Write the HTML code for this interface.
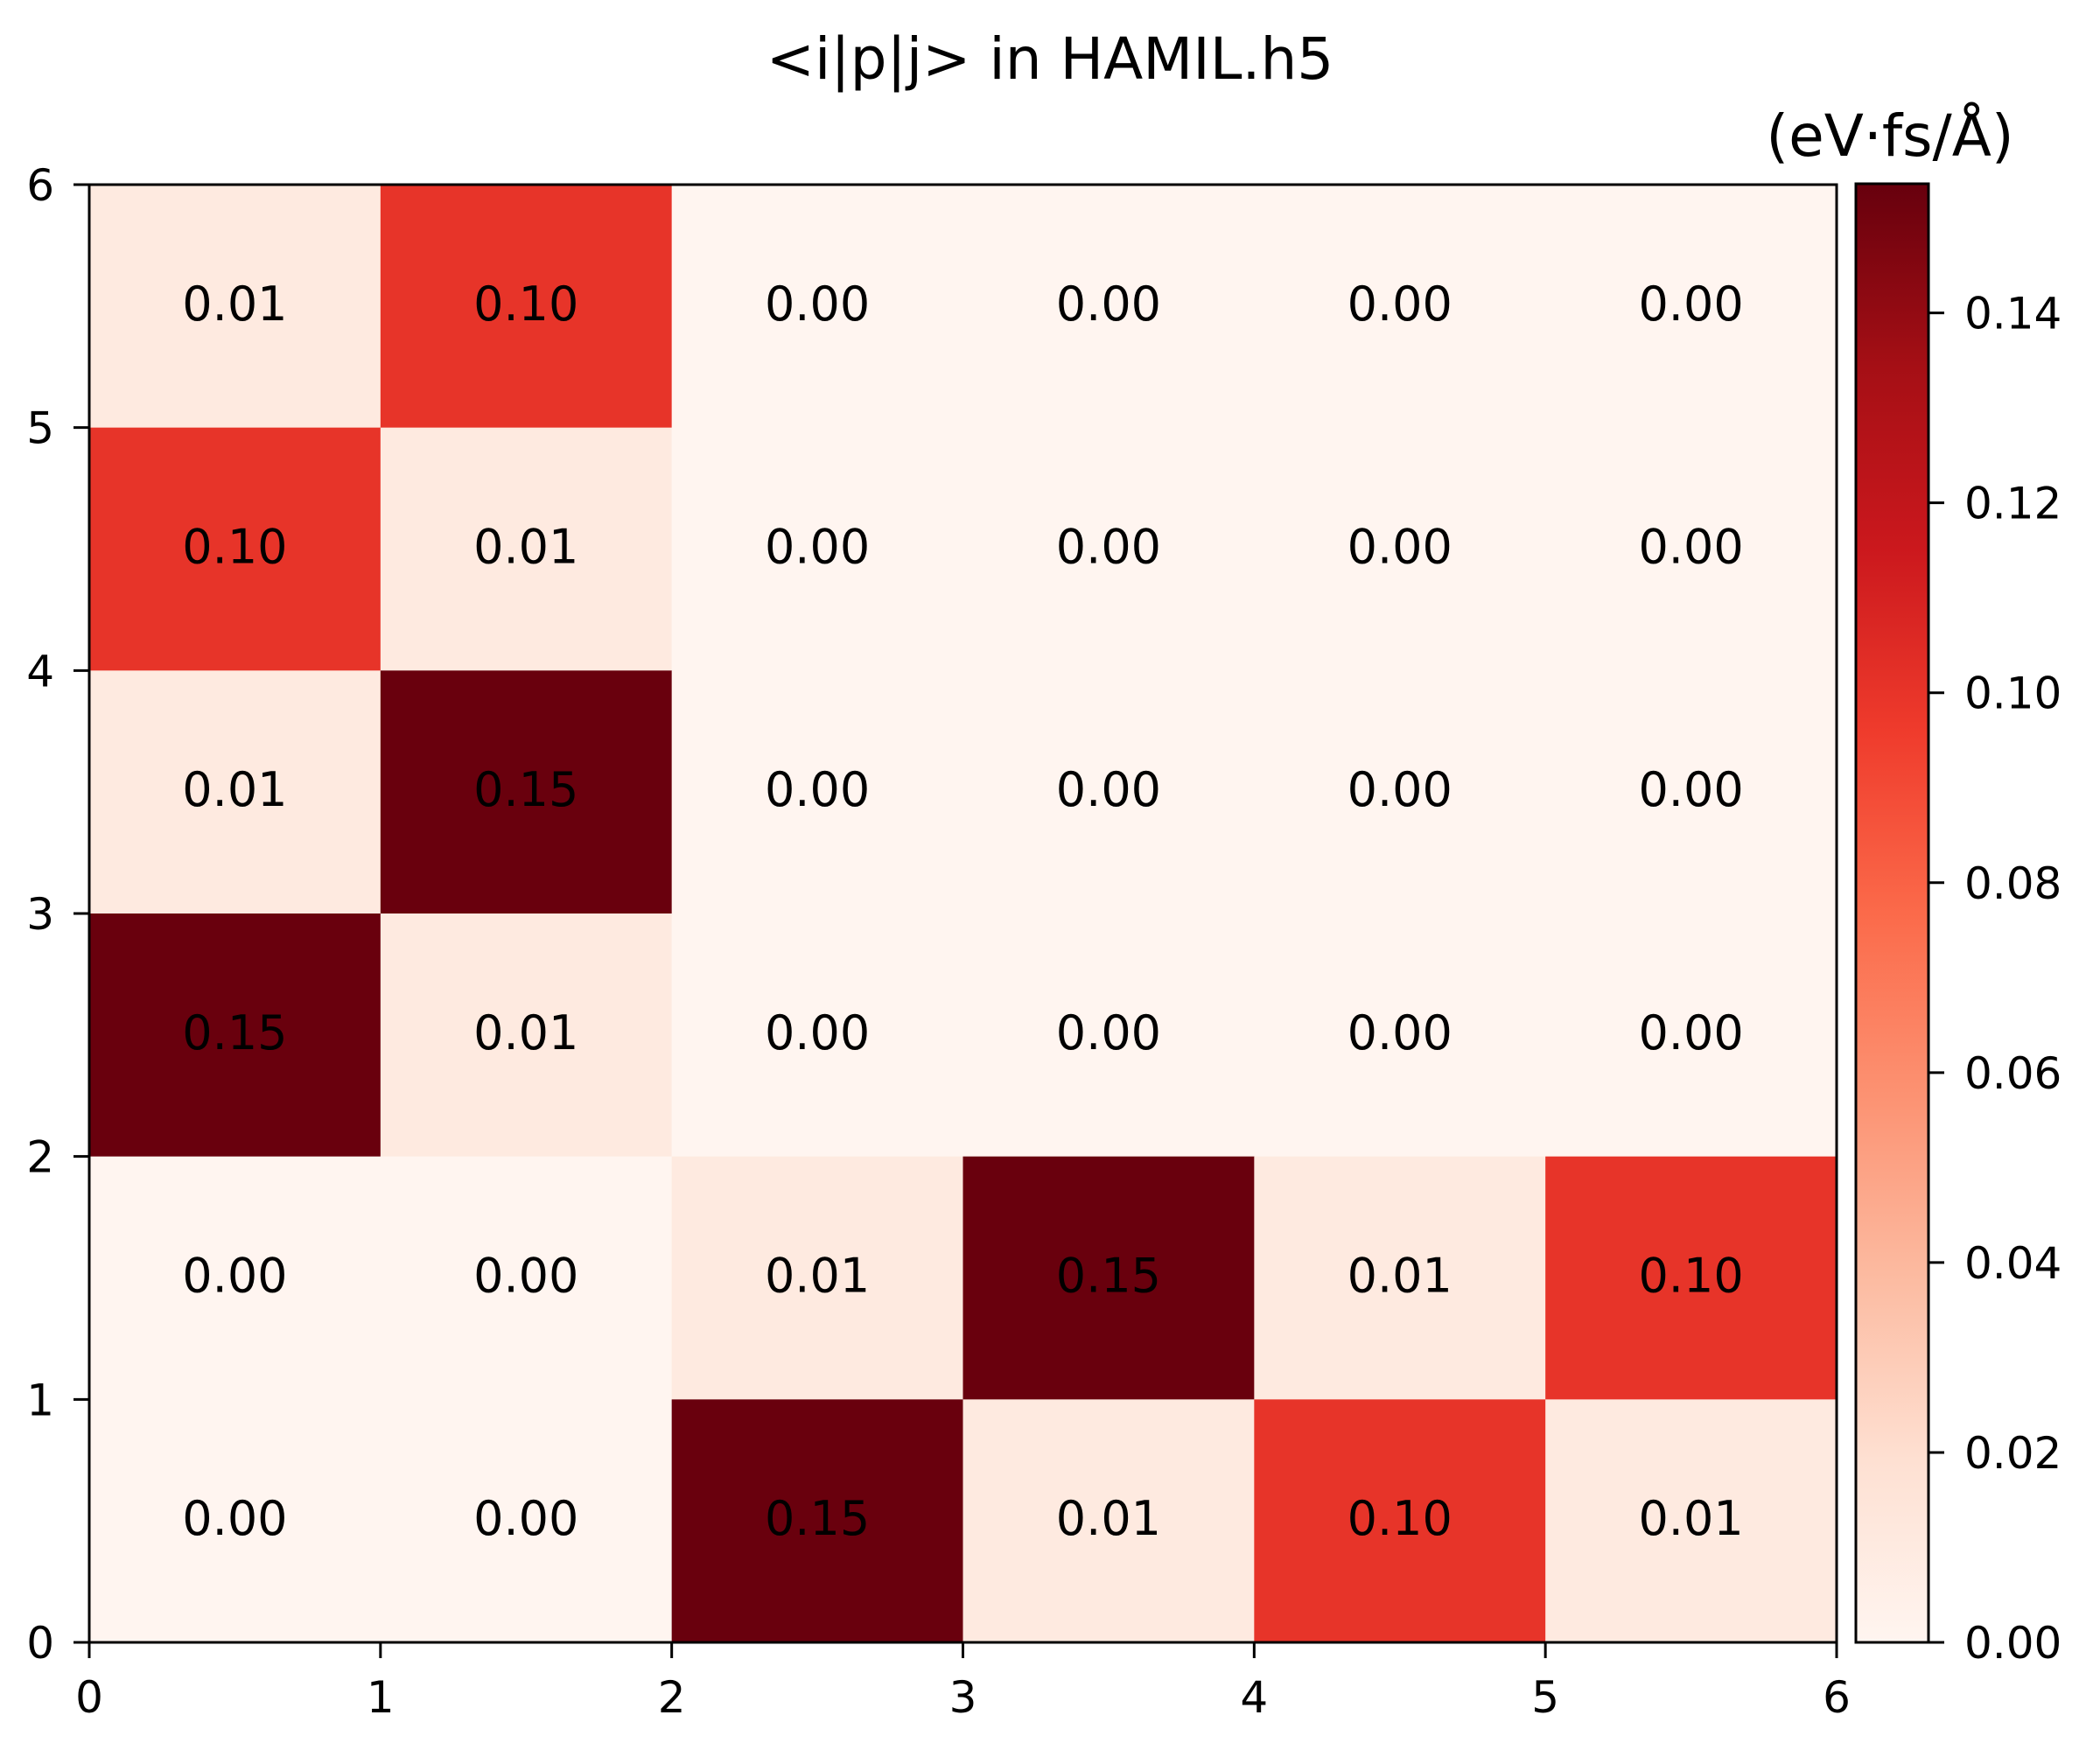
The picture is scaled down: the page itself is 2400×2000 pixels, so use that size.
<!DOCTYPE html>
<html><head><meta charset="utf-8"><style>
html,body{margin:0;padding:0;background:#fff;}
svg{display:block;font-family:"DejaVu Sans","Liberation Sans",sans-serif;}
</style></head><body>
<svg id="chart" width="2400" height="2000" viewBox="0 0 2400 2000" xmlns="http://www.w3.org/2000/svg">
<text x="1200" y="90" font-size="66" text-anchor="middle">&lt;i|p|j&gt; in HAMIL.h5</text>
<text x="2160" y="178" font-size="66" text-anchor="middle">(eV·fs/Å)</text>
<defs><linearGradient id="cbgrad" x1="0" y1="1" x2="0" y2="0"></linearGradient></defs>
<g id="cells"></g>
<g id="labels"></g>
<rect x="102" y="211" width="1997" height="1666" fill="none" stroke="#000" stroke-width="3"/>
<g id="xaxis"></g>
<g id="yaxis"></g>
<rect x="2121" y="210" width="83" height="1667" fill="url(#cbgrad)" stroke="#000" stroke-width="3"/>
<g id="cbaxis"></g>
</svg>
<script>
const rowsY = [5, 4, 3, 2, 1, 0];
const row5 = [0.01, 0.10, 0.00, 0.00, 0.00, 0.00];
const row4 = [0.10, 0.01, 0.00, 0.00, 0.00, 0.00];
const row3 = [0.01, 0.153, 0.00, 0.00, 0.00, 0.00];
const row2 = [0.153, 0.01, 0.00, 0.00, 0.00, 0.00];
const row1 = [0.00, 0.00, 0.01, 0.153, 0.01, 0.10];
const row0 = [0.00, 0.00, 0.153, 0.01, 0.10, 0.01];
const xTicks = [0, 1, 2, 3, 4, 5, 6];
const yTicks = [0, 1, 2, 3, 4, 5, 6];
const cbTicks = [0.00, 0.02, 0.04, 0.06, 0.08, 0.10, 0.12, 0.14];
const vmin = 0, vmax = 0.1536;

const rows = [row5, row4, row3, row2, row1, row0];
const NS = "http://www.w3.org/2000/svg";
const X0 = 102, X1 = 2099, Y0 = 1877, Y1 = 211;
const sx = v => X0 + (X1 - X0) * v / 6;
const sy = v => Y0 - (Y0 - Y1) * v / 6;
const CB0 = 1877, CB1 = 210;
const cy = v => CB0 - (CB0 - CB1) * (v - vmin) / (vmax - vmin);
const stops = ["#fff5f0","#fee0d2","#fcbba1","#fc9272","#fb6a4a","#ef3b2c","#cb181d","#a50f15","#67000d"];
function hex(h){return [1,3,5].map(i=>parseInt(h.substr(i,2),16));}
function cmap(v){
  let t = Math.max(0, Math.min(1, (v - vmin) / (vmax - vmin))) * (stops.length - 1);
  let i = Math.min(Math.floor(t), stops.length - 2), f = t - i;
  const a = hex(stops[i]), b = hex(stops[i+1]);
  return "rgb(" + a.map((c,k)=>Math.round(c + (b[k]-c)*f)).join(",") + ")";
}
function mk(tag, attrs, parent){
  const e = document.createElementNS(NS, tag);
  for (const k in attrs) e.setAttribute(k, attrs[k]);
  parent.appendChild(e); return e;
}
const grad = document.getElementById("cbgrad");
stops.forEach((c,i)=>mk("stop",{offset:(i/(stops.length-1)*100)+"%","stop-color":c},grad));
const cells = document.getElementById("cells"), labels = document.getElementById("labels");
rows.forEach((row, r) => {
  const y = rowsY[r];
  row.forEach((v, c) => {
    const rect = mk("rect", {x: sx(c), y: sy(y+1), width: sx(c+1)-sx(c)+0.5, height: sy(y)-sy(y+1)+0.5, fill: cmap(v)}, cells);
    
    
    const t = mk("text", {x: (sx(c)+sx(c+1))/2, y: (sy(y)+sy(y+1))/2 + 16, "font-size": 54, "text-anchor": "middle"}, labels);
    t.textContent = v.toFixed(2);
    
    
  });
});
const xa = document.getElementById("xaxis");
xTicks.forEach(v => {
  const l = mk("line", {x1: sx(v), x2: sx(v), y1: Y0, y2: Y0+18, stroke: "#000", "stroke-width": 3}, xa);
  
  
  const t = mk("text", {x: sx(v), y: Y0+80, "font-size": 50, "text-anchor": "middle"}, xa);
  t.textContent = v;
  
  
});
const ya = document.getElementById("yaxis");
yTicks.forEach(v => {
  const l = mk("line", {x1: X0-18, x2: X0, y1: sy(v), y2: sy(v), stroke: "#000", "stroke-width": 3}, ya);
  
  
  const t = mk("text", {x: X0-40, y: sy(v)+18, "font-size": 50, "text-anchor": "end"}, ya);
  t.textContent = v;
  
  
});
const ca = document.getElementById("cbaxis");
cbTicks.forEach(v => {
  const l = mk("line", {x1: 2204, x2: 2222, y1: cy(v), y2: cy(v), stroke: "#000", "stroke-width": 3}, ca);
  
  
  const t = mk("text", {x: 2245, y: cy(v)+18, "font-size": 50}, ca);
  t.textContent = v.toFixed(2);
  
  
});
</script>
</body></html>
